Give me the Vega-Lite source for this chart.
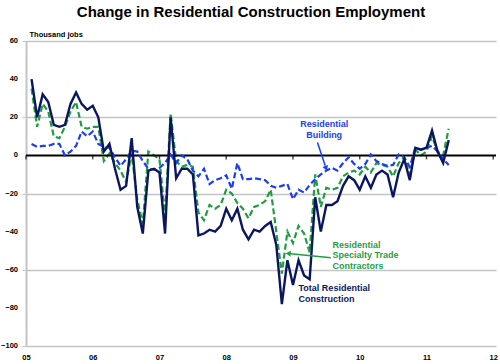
{
  "$schema": "https://vega.github.io/schema/vega-lite/v6.json",
  "width": 470,
  "height": 305,
  "autosize": {"type": "none"},
  "padding": {"left": 26, "top": 41, "right": 4, "bottom": 18},
  "title": {"text": "Change in Residential Construction Employment", "font": "Liberation Sans", "fontSize": 15, "fontWeight": "bold", "color": "black", "anchor": "middle", "dx": -10, "dy": 17, "offset": 12, "baseline": "bottom"},
  "config": {
    "view": {"stroke": null},
    "font": "Liberation Sans",
    "axis": {"labelOverlap": false},
    "axisY": {"labelOverlap": false, "labelFlush": false, "labelFontSize": 7.5, "labelFontWeight": "bold", "labelColor": "black", "labelFont": "Liberation Sans", "labelPadding": 3, "grid": true, "gridColor": "#c4c4c4", "gridWidth": 1.5, "domainColor": "#c4c4c4", "domainWidth": 2, "tickColor": "#c4c4c4", "tickSize": 4},
    "axisX": {"labelOverlap": false, "labelFlush": false, "labelFontSize": 7.5, "labelFontWeight": "bold", "labelColor": "black", "labelFont": "Liberation Sans", "labelPadding": 7, "domain": false, "ticks": false, "grid": false}
  },
  "datasets": {
    "yticks": [{"v": -100}, {"v": -80}, {"v": -60}, {"v": -40}, {"v": -20}, {"v": 0}, {"v": 20}, {"v": 40}, {"v": 60}]
  },
  "data": {"values": [
    {"month":1,"total":40,"specialty":35,"building":6},
    {"month":2,"total":20,"specialty":15,"building":4.5},
    {"month":3,"total":32,"specialty":27,"building":5},
    {"month":4,"total":28,"specialty":23,"building":5},
    {"month":5,"total":16,"specialty":10,"building":6},
    {"month":6,"total":15,"specialty":9,"building":6},
    {"month":7,"total":16,"specialty":15,"building":0},
    {"month":8,"total":27,"specialty":23,"building":2},
    {"month":9,"total":33,"specialty":28,"building":5},
    {"month":10,"total":27,"specialty":15,"building":12.5},
    {"month":11,"total":24,"specialty":14,"building":10},
    {"month":12,"total":26,"specialty":15,"building":12.5},
    {"month":13,"total":20,"specialty":15,"building":6},
    {"month":14,"total":2,"specialty":-3,"building":4.5},
    {"month":15,"total":6,"specialty":1,"building":4},
    {"month":16,"total":-7,"specialty":-4,"building":-1},
    {"month":17,"total":-18,"specialty":-8,"building":-5.5},
    {"month":18,"total":-16,"specialty":-14,"building":-2},
    {"month":19,"total":9,"specialty":1,"building":2.5},
    {"month":20,"total":-27,"specialty":-23,"building":2},
    {"month":21,"total":-41,"specialty":-36,"building":-3},
    {"month":22,"total":-8,"specialty":2,"building":-7},
    {"month":23,"total":-7,"specialty":0,"building":-7.5},
    {"month":24,"total":-9,"specialty":-2,"building":-6.5},
    {"month":25,"total":-41,"specialty":-32,"building":-4},
    {"month":26,"total":20,"specialty":22,"building":0.5},
    {"month":27,"total":-12,"specialty":-3,"building":-4},
    {"month":28,"total":-7,"specialty":-6,"building":0},
    {"month":29,"total":-7,"specialty":-5,"building":-2},
    {"month":30,"total":-10,"specialty":-6,"building":-8},
    {"month":31,"total":-42,"specialty":-30,"building":-11},
    {"month":32,"total":-41,"specialty":-34,"building":-7},
    {"month":33,"total":-39,"specialty":-26,"building":-15},
    {"month":34,"total":-40,"specialty":-28,"building":-13},
    {"month":35,"total":-37,"specialty":-26,"building":-12},
    {"month":36,"total":-28,"specialty":-18,"building":-10.5},
    {"month":37,"total":-34,"specialty":-20,"building":-17.5},
    {"month":38,"total":-28,"specialty":-25,"building":-4},
    {"month":39,"total":-39,"specialty":-28,"building":-12.5},
    {"month":40,"total":-44,"specialty":-33,"building":-12.5},
    {"month":41,"total":-39,"specialty":-27,"building":-12},
    {"month":42,"total":-40,"specialty":-26,"building":-12.5},
    {"month":43,"total":-37,"specialty":-24,"building":-13},
    {"month":44,"total":-35,"specialty":-18,"building":-16},
    {"month":45,"total":-47,"specialty":-40,"building":-17},
    {"month":46,"total":-78,"specialty":-62,"building":-16},
    {"month":47,"total":-55,"specialty":-40,"building":-15},
    {"month":48,"total":-68,"specialty":-46,"building":-23},
    {"month":49,"total":-55,"specialty":-37,"building":-18},
    {"month":50,"total":-63,"specialty":-41,"building":-19.5},
    {"month":51,"total":-65,"specialty":-51,"building":-15.5},
    {"month":52,"total":-22,"specialty":-10,"building":-12.5},
    {"month":53,"total":-40,"specialty":-27,"building":-10},
    {"month":54,"total":-26,"specialty":-17,"building":-8},
    {"month":55,"total":-26,"specialty":-18,"building":-6.5},
    {"month":56,"total":-24,"specialty":-17,"building":-8},
    {"month":57,"total":-16,"specialty":-11,"building":-4},
    {"month":58,"total":-11,"specialty":-9,"building":-1},
    {"month":59,"total":-13,"specialty":-8,"building":-4.5},
    {"month":60,"total":-18,"specialty":-10,"building":-7},
    {"month":61,"total":-11,"specialty":-6,"building":-4.5},
    {"month":62,"total":-17,"specialty":-9,"building":0.5},
    {"month":63,"total":-10,"specialty":-4,"building":-3},
    {"month":64,"total":-8,"specialty":-5,"building":-4.5},
    {"month":65,"total":-10,"specialty":-6,"building":-5.5},
    {"month":66,"total":-22,"specialty":-11,"building":-5},
    {"month":67,"total":-9,"specialty":-4,"building":0.5},
    {"month":68,"total":-2,"specialty":-1,"building":-1},
    {"month":69,"total":-13,"specialty":-10,"building":-6},
    {"month":70,"total":4,"specialty":3,"building":4},
    {"month":71,"total":3,"specialty":0,"building":3},
    {"month":72,"total":4,"specialty":2,"building":4},
    {"month":73,"total":13,"specialty":10,"building":5},
    {"month":74,"total":2,"specialty":2,"building":2},
    {"month":75,"total":-4,"specialty":0,"building":-2},
    {"month":76,"total":8,"specialty":14,"building":-5}
  ]},
  "layer": [
    {
      "mark": {"type": "line", "color": "#1f9e3f", "strokeWidth": 2.2, "strokeDash": [6, 3]},
      "encoding": {
        "x": {"field": "month", "type": "quantitative",
          "scale": {"domain": [0, 84.5], "nice": false, "zero": false},
          "axis": {"values": [0, 12, 24, 36, 48, 60, 72, 84], "labelExpr": "format(datum.value / 12 + 5, '02d')", "title": null}},
        "y": {"field": "specialty", "type": "quantitative",
          "scale": {"domain": [-100, 60], "nice": false, "zero": false},
          "axis": {"values": [-100, -80, -60, -40, -20, 0, 20, 40, 60], "labels": false, "title": "Thousand jobs", "titleAngle": 0, "titleX": 3, "titleY": -7, "titleAlign": "left", "titleBaseline": "middle", "titleFontSize": 7.5, "titleFontWeight": "bold", "titleColor": "black", "titleFont": "Liberation Sans"}}
      }
    },
    {
      "data": {"name": "yticks"},
      "mark": {"type": "text", "align": "right", "baseline": "middle", "xOffset": -8, "font": "Liberation Sans", "fontSize": 7.5, "fontWeight": "bold", "color": "black"},
      "encoding": {"x": {"datum": 0}, "y": {"field": "v", "type": "quantitative"}, "text": {"field": "v", "type": "quantitative"}}
    },
    {
      "data": {"values": [{}]},
      "mark": {"type": "rule", "color": "black", "strokeWidth": 2},
      "encoding": {"y": {"datum": 0}}
    },
    {
      "data": {"values": [{"month": 0}, {"month": 12}, {"month": 24}, {"month": 36}, {"month": 48}, {"month": 60}, {"month": 72}, {"month": 84}]},
      "mark": {"type": "tick", "orient": "vertical", "size": 4, "thickness": 1.5, "color": "black", "yOffset": 2},
      "encoding": {"x": {"field": "month", "type": "quantitative"}, "y": {"datum": 0}}
    },
    {
      "mark": {"type": "line", "color": "#1d3cf5", "strokeWidth": 2.2, "strokeDash": [6, 3]},
      "encoding": {"x": {"field": "month", "type": "quantitative"}, "y": {"field": "building", "type": "quantitative"}}
    },
    {
      "mark": {"type": "line", "color": "#0b1660", "strokeWidth": 2.4},
      "encoding": {"x": {"field": "month", "type": "quantitative"}, "y": {"field": "total", "type": "quantitative"}}
    },
    {
      "data": {"values": [{}]},
      "mark": {"type": "text", "text": ["Residential", "Building"], "align": "center", "baseline": "top", "font": "Liberation Sans", "fontSize": 9, "fontWeight": "bold", "fill": "#1d3cf5", "lineHeight": 11},
      "encoding": {"x": {"datum": 53.6}, "y": {"datum": 18.5}}
    },
    {
      "data": {"values": [{}]},
      "mark": {"type": "rule", "color": "#1d3cf5", "strokeWidth": 1.5},
      "encoding": {"x": {"datum": 52.4}, "y": {"datum": 6.7}, "x2": {"datum": 53.8}, "y2": {"datum": -5.5}}
    },
    {
      "data": {"values": [{}]},
      "mark": {"type": "point", "shape": "triangle", "angle": 161, "size": 35, "filled": true, "opacity": 1, "color": "#1d3cf5"},
      "encoding": {"x": {"datum": 53.9}, "y": {"datum": -6.4}}
    },
    {
      "data": {"values": [{}]},
      "mark": {"type": "text", "text": ["Residential", "Specialty Trade", "Contractors"], "align": "left", "baseline": "top", "font": "Liberation Sans", "fontSize": 9, "fontWeight": "bold", "fill": "#1f9e3f", "lineHeight": 10.5},
      "encoding": {"x": {"datum": 55.1}, "y": {"datum": -44.7}}
    },
    {
      "data": {"values": [{}]},
      "mark": {"type": "rule", "color": "#1f9e3f", "strokeWidth": 1.5},
      "encoding": {"x": {"datum": 54.8}, "y": {"datum": -53.7}, "x2": {"datum": 47.6}, "y2": {"datum": -51.6}}
    },
    {
      "data": {"values": [{}]},
      "mark": {"type": "point", "shape": "triangle", "angle": 276, "size": 35, "filled": true, "opacity": 1, "color": "#1f9e3f"},
      "encoding": {"x": {"datum": 47.3}, "y": {"datum": -51.5}}
    },
    {
      "data": {"values": [{}]},
      "mark": {"type": "text", "text": ["Total Residential", "Construction"], "align": "left", "baseline": "top", "font": "Liberation Sans", "fontSize": 9, "fontWeight": "bold", "fill": "#0b1660", "lineHeight": 11},
      "encoding": {"x": {"datum": 49.0}, "y": {"datum": -67.3}}
    }
  ]
}
